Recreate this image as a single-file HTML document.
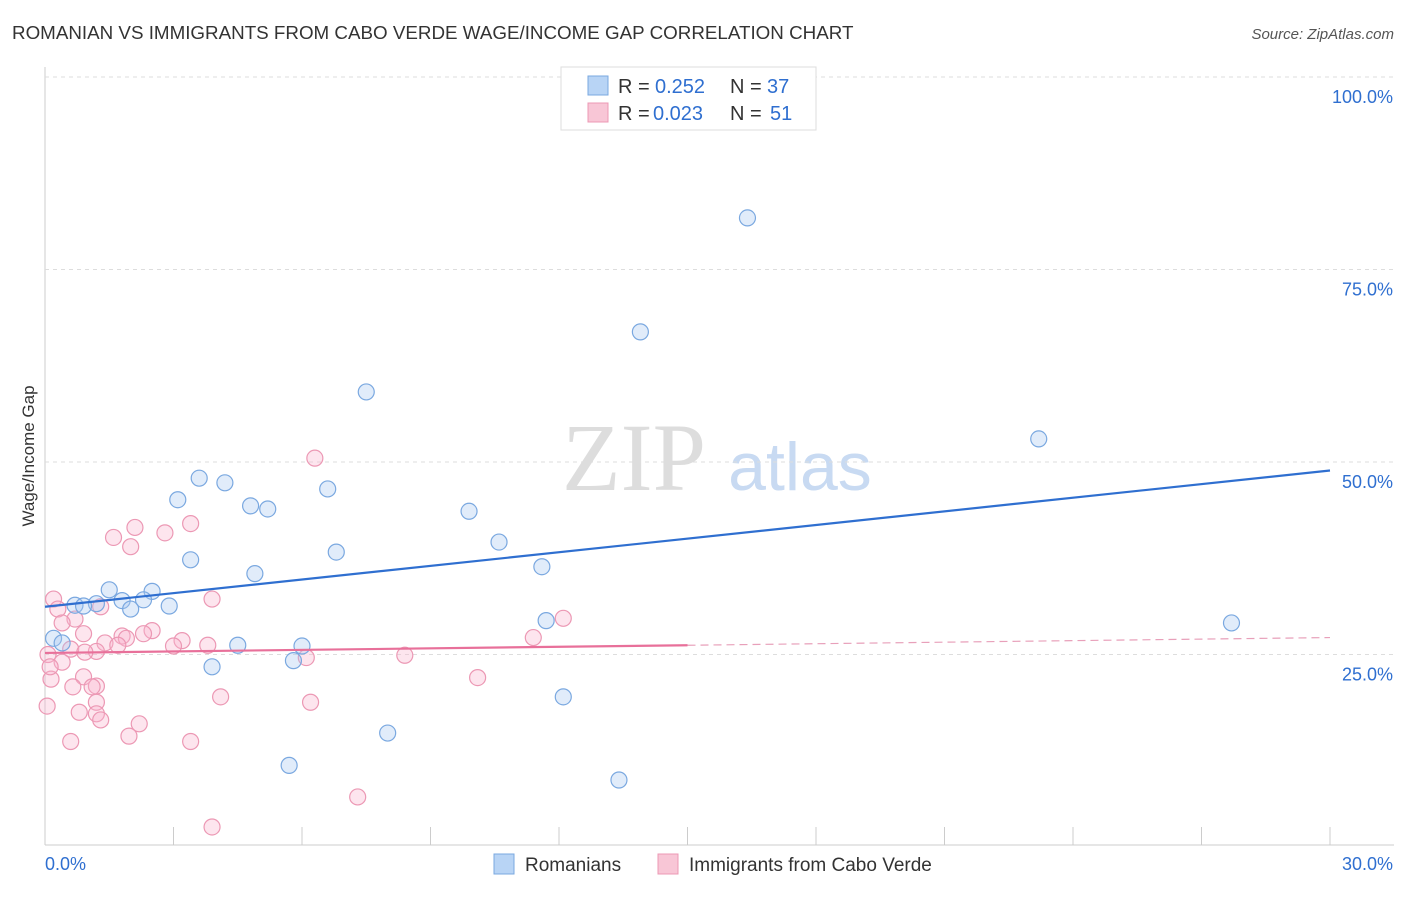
<!DOCTYPE html>
<html><head><meta charset="utf-8"><style>
body{margin:0;background:#fff;font-family:"Liberation Sans",sans-serif}
</style></head><body>
<svg width="1406" height="892" id="c" xmlns="http://www.w3.org/2000/svg" font-family="Liberation Sans, sans-serif">
<text x="12" y="39" font-size="18.8" fill="#333">ROMANIAN VS IMMIGRANTS FROM CABO VERDE WAGE/INCOME GAP CORRELATION CHART</text>
<text x="1394" y="39" font-size="15" fill="#555" font-style="italic" text-anchor="end">Source: ZipAtlas.com</text>
<text x="634" y="490" font-size="96" fill="#ddd" font-family="Liberation Serif, serif" text-anchor="middle">ZIP</text>
<text x="800" y="490" font-size="68" fill="#c8daf2" text-anchor="middle">atlas</text>
<text transform="translate(34,456) rotate(-90)" font-size="17" fill="#333" text-anchor="middle">Wage/Income Gap</text>
<g id="grid"></g><g id="pts"></g><g id="lines"></g>
<g>
<rect x="561" y="67" width="255" height="63" fill="#fff" stroke="#ddd"/>
<rect x="588" y="76" width="20" height="19" fill="#b8d4f5" stroke="#7aa8e0"/>
<rect x="588" y="103" width="20" height="19" fill="#f8c6d6" stroke="#ec98b4"/>
<text x="618" y="93" font-size="20" fill="#333">R =</text>
<text x="655" y="93" font-size="20" fill="#2f6fd0">0.252</text>
<text x="730" y="93" font-size="20" fill="#333">N =</text>
<text x="767" y="93" font-size="20" fill="#2f6fd0">37</text>
<text x="618" y="120" font-size="20" fill="#333">R =</text>
<text x="653" y="120" font-size="20" fill="#2f6fd0">0.023</text>
<text x="730" y="120" font-size="20" fill="#333">N =</text>
<text x="770" y="120" font-size="20" fill="#2f6fd0">51</text>
</g>
<g>
<rect x="494" y="854" width="20" height="20" fill="#b8d4f5" stroke="#7aa8e0"/>
<text x="525" y="871" font-size="19" fill="#333">Romanians</text>
<rect x="658" y="854" width="20" height="20" fill="#f8c6d6" stroke="#ec98b4"/>
<text x="689" y="871" font-size="19" fill="#333">Immigrants from Cabo Verde</text>
</g>
</svg>
<script>
const yTicks=[25,50,75,100];
const yTickLabels=["25.0%","50.0%","75.0%","100.0%"];
const blueX=[16.4,13.9,7.5,23.2,3.6,4.2,3.1,6.6,4.8,5.2,9.9,10.6,6.8,3.4,11.6,4.9,1.5,2.5,1.8,2.3,1.2,0.7,0.9,2.9,2.0,11.7,27.7,0.2,0.4,4.5,6.0,5.8,3.9,12.1,8.0,5.7,13.4];
const blueY=[81.7,66.9,59.1,53.0,47.9,47.3,45.1,46.5,44.3,43.9,43.6,39.6,38.3,37.3,36.4,35.5,33.4,33.2,32.0,32.1,31.6,31.4,31.3,31.3,30.9,29.4,29.1,27.1,26.5,26.2,26.1,24.2,23.4,19.5,14.8,10.6,8.7];
const pinkX=[6.3,2.1,3.4,2.8,1.6,2.0,0.2,3.9,12.1,0.3,1.3,0.7,0.4,0.9,2.5,2.3,1.8,1.9,1.4,3.2,3.0,3.8,11.4,1.7,0.6,1.2,0.07,6.1,0.4,8.4,0.14,0.9,0.65,1.2,1.1,4.1,6.2,1.2,10.1,0.05,0.8,1.2,1.3,2.2,1.96,0.6,3.4,7.3,3.9,0.12,0.93];
const pinkY=[50.5,41.5,42.0,40.8,40.2,39.0,32.2,32.2,29.7,30.9,31.2,29.6,29.1,27.7,28.1,27.7,27.4,27.1,26.5,26.8,26.1,26.2,27.2,26.2,25.7,25.4,25.0,24.6,24.0,24.9,21.8,22.1,20.8,20.9,20.8,19.5,18.8,18.8,22.0,18.3,17.5,17.3,16.5,16.0,14.4,13.7,13.7,6.5,2.6,23.4,25.3];
const blueTrend=[[0,31.2],[30,48.9]];
const pinkTrend=[[0,25.2],[15,26.2],[30,27.2]];
const NS="http://www.w3.org/2000/svg";
const X=v=>45+v/30*1285, Y=v=>847-v/25*192.5;
function mk(t,a,p){const e=document.createElementNS(NS,t);for(const k in a)e.setAttribute(k,a[k]);p.appendChild(e);return e;}
const g=document.getElementById('grid');
mk('line',{x1:45,y1:67,x2:45,y2:845,stroke:'#ccc'},g);
mk('line',{x1:45,y1:845,x2:1394,y2:845,stroke:'#ccc'},g);
for(let i=0;i<=10;i++){const l=mk('line',{x1:45+i*128.5,y1:827,x2:45+i*128.5,y2:845,stroke:'#ccc'},g);}
yTicks.forEach((t,i)=>{const l=mk('line',{x1:45,y1:Y(t),x2:1394,y2:Y(t),stroke:'#ddd','stroke-dasharray':'4,4'},g);

const tx=mk('text',{x:1393,y:Y(t)+26,'font-size':18,fill:'#2f6fd0','text-anchor':'end'},g);tx.textContent=yTickLabels[i];
});
const a=mk('text',{x:45,y:870,'font-size':18,fill:'#2f6fd0'},g);a.textContent='0.0%';
const b=mk('text',{x:1393,y:870,'font-size':18,fill:'#2f6fd0','text-anchor':'end'},g);b.textContent='30.0%';
const p=document.getElementById('pts');
pinkX.forEach((x,i)=>{const c=mk('circle',{cx:X(x),cy:Y(pinkY[i]),r:8,fill:'rgba(248,180,205,0.35)',stroke:'#ec98b4','stroke-width':1.2},p);});
blueX.forEach((x,i)=>{const c=mk('circle',{cx:X(x),cy:Y(blueY[i]),r:8,fill:'rgba(170,200,240,0.35)',stroke:'#7aa8e0','stroke-width':1.2},p);});
const L=document.getElementById('lines');
let l1=mk('line',{x1:X(blueTrend[0][0]),y1:Y(blueTrend[0][1]),x2:X(blueTrend[1][0]),y2:Y(blueTrend[1][1]),stroke:'#2f6fd0','stroke-width':2.2},L);

let l2=mk('line',{x1:X(pinkTrend[0][0]),y1:Y(pinkTrend[0][1]),x2:X(pinkTrend[1][0]),y2:Y(pinkTrend[1][1]),stroke:'#e8709a','stroke-width':2.2},L);

let l3=mk('line',{x1:X(pinkTrend[1][0]),y1:Y(pinkTrend[1][1]),x2:X(pinkTrend[2][0]),y2:Y(pinkTrend[2][1]),stroke:'#e8a0ba','stroke-width':1.2,'stroke-dasharray':'8,5'},L);

</script>
</body></html>
